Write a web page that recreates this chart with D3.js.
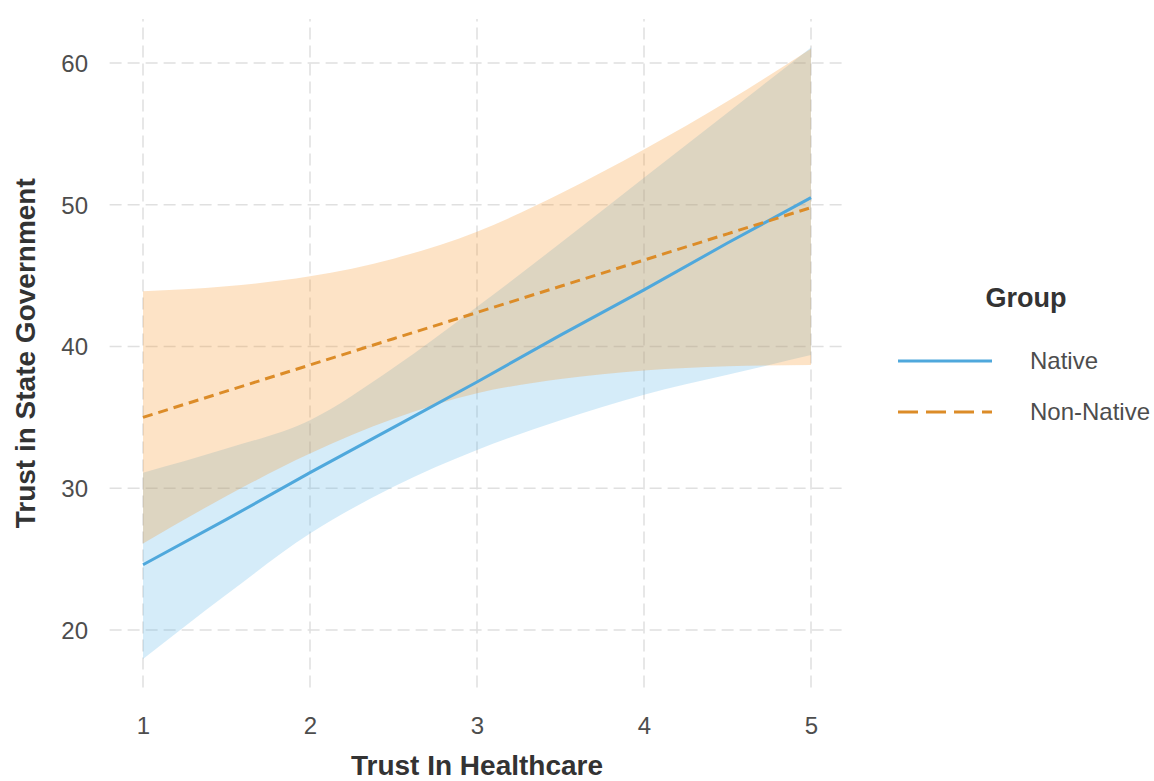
<!DOCTYPE html>
<html>
<head>
<meta charset="utf-8">
<script src="https://cdn.jsdelivr.net/npm/d3@7"></script>
<style>
  body { margin: 0; background: #fff; }
  svg { display: block; font-family: "Liberation Sans", Arial, sans-serif; }
</style>
</head>
<body>
<div id="chart"></div>
<script>
const width = 1154;
const height = 781;

// values (x = Trust In Healthcare)
const xVals = [1, 1.5, 2, 2.5, 3, 3.5, 4, 4.5, 5];
const nativeFit = [24.6, 27.8, 31.1, 34.3, 37.5, 40.8, 44.0, 47.3, 50.5];
const nativeLower = [17.95, 22.5, 26.8, 30.1, 32.7, 34.8, 36.6, 38.0, 39.4];
const nativeUpper = [31.1, 32.8, 34.8, 38.5, 42.8, 47.3, 51.9, 56.5, 61.1];
const nonNativeFit = [35.0, 36.85, 38.7, 40.55, 42.4, 44.25, 46.1, 47.95, 49.8];
const nonNativeLower = [26.1, 29.45, 32.45, 34.9, 36.7, 37.7, 38.3, 38.6, 38.7];
const nonNativeUpper = [43.9, 44.25, 44.95, 46.2, 48.1, 50.8, 53.9, 57.3, 61.0];

const xTicks = [1, 2, 3, 4, 5];
const yTicks = [20, 30, 40, 50, 60];

const groups = [
    { name: 'Native', fit: nativeFit, lower: nativeLower, upper: nativeUpper,
      line: '#4FA8DC', fill: '#56B4E9', dash: null },
    { name: 'Non-Native', fit: nonNativeFit, lower: nonNativeLower, upper: nonNativeUpper,
      line: '#DC8C28', fill: '#F78F1B', dash: '10,6' }
];

const x = d3.scaleLinear().domain([0.8, 5.2]).range([109.6, 844.4]);
const y = d3.scaleLinear().domain([15.95, 63.1]).range([687.4, 19.1]);

const svg = d3.select('#chart').append('svg')
    .attr('width', width)
    .attr('height', height);

// grid
const grid = svg.append('g').attr('class', 'grid');
grid.selectAll('line.h')
    .data(yTicks)
    .enter()
    .append('line')
    .attr('x1', x.range()[0]).attr('x2', x.range()[1])
    .attr('y1', d => y(d)).attr('y2', d => y(d))
    .attr('stroke', '#e0e0e0')
    .attr('stroke-width', 1.5)
    .attr('stroke-dasharray', '12,6');
grid.selectAll('line.v')
    .data(xTicks)
    .enter()
    .append('line')
    .attr('y1', y.range()[0]).attr('y2', y.range()[1])
    .attr('x1', d => x(d)).attr('x2', d => x(d))
    .attr('stroke', '#e0e0e0')
    .attr('stroke-width', 1.5)
    .attr('stroke-dasharray', '12,6');

// ribbons
const area = d3.area()
    .x(d => x(d.x))
    .y0(d => y(d.lo))
    .y1(d => y(d.hi))
    .curve(d3.curveMonotoneX);

groups.forEach(g => {
    const pts = xVals.map((v, i) => ({ x: v, lo: g.lower[i], hi: g.upper[i] }));
    svg.append('path')
        .datum(pts)
        .attr('d', area)
        .attr('fill', g.fill)
        .attr('fill-opacity', 0.25);
});

// fitted lines
const line = d3.line()
    .x(d => x(d.x))
    .y(d => y(d.y));

groups.forEach(g => {
    const pts = xVals.map((v, i) => ({ x: v, y: g.fit[i] }));
    svg.append('path')
        .datum(pts)
        .attr('d', line)
        .attr('fill', 'none')
        .attr('stroke', g.line)
        .attr('stroke-width', 3)
        .attr('stroke-dasharray', g.dash);
});

// axes (text only, like theme_minimal)
const xAxis = d3.axisBottom(x).tickValues(xTicks).tickFormat(d3.format('d')).tickSize(0).tickPadding(0);
svg.append('g')
    .attr('transform', 'translate(0,734)')
    .call(xAxis)
    .call(g => g.select('.domain').remove())
    .selectAll('text')
    .attr('dy', 0)
    .attr('font-size', 24)
    .attr('font-family', '"Liberation Sans", Arial, sans-serif')
    .attr('fill', '#4d4d4d');

const yAxis = d3.axisLeft(y).tickValues(yTicks).tickFormat(d3.format('d')).tickSize(0).tickPadding(0);
svg.append('g')
    .attr('transform', 'translate(88,0)')
    .call(yAxis)
    .call(g => g.select('.domain').remove())
    .selectAll('text')
    .attr('dy', '0.35em')
    .attr('font-size', 24)
    .attr('font-family', '"Liberation Sans", Arial, sans-serif')
    .attr('fill', '#4d4d4d');

// axis titles
svg.append('text')
    .attr('x', x(3))
    .attr('y', 775)
    .attr('text-anchor', 'middle')
    .attr('font-size', 28)
    .attr('font-weight', 'bold')
    .attr('fill', '#333')
    .text('Trust In Healthcare');

svg.append('text')
    .attr('transform', `translate(35,${(y.range()[0] + y.range()[1]) / 2}) rotate(-90)`)
    .attr('text-anchor', 'middle')
    .attr('font-size', 28)
    .attr('font-weight', 'bold')
    .attr('fill', '#333')
    .text('Trust in State Government');

// legend
const legend = svg.append('g').attr('class', 'legend');
legend.append('text')
    .attr('x', 1026)
    .attr('y', 307)
    .attr('text-anchor', 'middle')
    .attr('font-size', 27)
    .attr('font-weight', 'bold')
    .attr('fill', '#333')
    .text('Group');

const keys = legend.selectAll('g.key')
    .data(groups)
    .enter()
    .append('g')
    .attr('class', 'key')
    .attr('transform', (d, i) => `translate(0,${361 + i * 51})`);

keys.append('line')
    .attr('x1', 898).attr('x2', 992)
    .attr('stroke', d => d.line)
    .attr('stroke-width', 3)
    .attr('stroke-dasharray', d => d.dash ? '20,8' : null);

keys.append('text')
    .attr('x', 1030)
    .attr('y', 0)
    .attr('dy', '0.35em')
    .attr('font-size', 24)
    .attr('fill', '#4d4d4d')
    .text(d => d.name);
</script>
</body>
</html>
